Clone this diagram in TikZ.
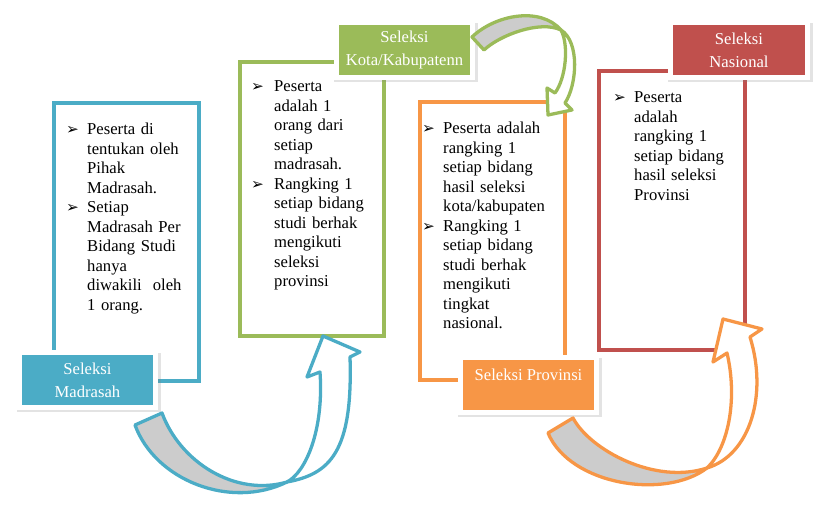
\documentclass[tikz,border=0pt]{standalone}
\usepackage{fontspec}
\setmainfont{Liberation Serif}
\newfontfamily\symfont{DejaVu Sans}
\usetikzlibrary{positioning, shadows}
\definecolor{BoxBlue}{HTML}{4BACC6}
\definecolor{BoxGreen}{HTML}{9BBB59}
\definecolor{BoxOrange}{HTML}{F79646}
\definecolor{BoxRed}{HTML}{C0504D}
\definecolor{BackGrey}{HTML}{CCCCCC}

\begin{document}
\begin{tikzpicture}[x=0.03cm, y=-0.03cm,
    box/.style={rectangle, draw=#1, line width=3.4pt, fill=white, inner sep=0pt, minimum width=4.35cm, minimum height=8.34cm},
    tag/.style={rectangle, fill=#1, draw=white, line width=4.3pt, minimum width=4.08cm, minimum height=1.65cm, text=white, align=center, inner sep=0pt, font=\fontsize{14.2}{19.5}\selectfont, drop shadow={opacity=0.22, shadow scale=1.06, shadow xshift=1pt, shadow yshift=-2pt}},
    txt/.style={anchor=base west, align=left, inner sep=0pt, text width=4cm, font=\fontsize{14.2}{16.6}\selectfont},
    bul/.style={anchor=base east, inner sep=0pt, font=\symfont\fontsize{13}{14}\selectfont},
    band/.style={draw=#1, line width=2.8pt, line join=round}]
    \useasboundingbox (0,0) rectangle (823,516);

    % Kotak
    \node[box=BoxBlue] (kMadrasah) at (126.5,242) {};
    \node[box=BoxGreen, minimum width=4.32cm, minimum height=8.22cm] (kKota) at (312,199) {};
    \node[box=BoxOrange] (kProv) at (492.5,241) {};
    \node[box=BoxRed, minimum width=4.38cm, minimum height=8.37cm] (kNas) at (672,210.5) {};

    % Isi kotak
    \node[bul] (b1a) at (79,135) {➢};
    \node[txt] (t1a) at (87,135) {Peserta di\\tentukan oleh\\Pihak\\Madrasah.};
    \node[bul] (b1b) at (79,213) {➢};
    \node[txt] (t1b) at (87,213) {Setiap\\Madrasah Per\\Bidang Studi\\hanya\\diwakili~ oleh\\1 orang.};

    \node[bul] (b2a) at (264,92) {➢};
    \node[txt] (t2a) at (274,92) {Peserta\\adalah 1\\orang dari\\setiap\\madrasah.};
    \node[bul] (b2b) at (264,189.5) {➢};
    \node[txt] (t2b) at (274,189.5) {Rangking 1\\setiap bidang\\studi berhak\\mengikuti\\seleksi\\provinsi};

    \node[bul] (b3a) at (435,134) {➢};
    \node[txt] (t3a) at (443,134) {Peserta adalah\\rangking 1\\setiap bidang\\hasil seleksi\\kota/kabupaten};
    \node[bul] (b3b) at (435,231.5) {➢};
    \node[txt] (t3b) at (443,231.5) {Rangking 1\\setiap bidang\\studi berhak\\mengikuti\\tingkat\\nasional.};

    \node[bul] (b4a) at (626,103) {➢};
    \node[txt] (t4a) at (634,103) {Peserta\\adalah\\rangking 1\\setiap bidang\\hasil seleksi\\Provinsi};

    % Label
    \node[tag=BoxBlue] (lMadrasah) at (87.5,380) {Seleksi\\Madrasah};
    \node[tag=BoxGreen] (lKota) at (404.5,50) {Seleksi\\Kota/Kabupatenn};
    \node[tag=BoxOrange] (lProv) at (528.5,385) {};
    \node[text=white, inner sep=0pt, font=\fontsize{14.2}{16.6}\selectfont] (tProv) at (528.5,375) {Seleksi Provinsi};
    \node[tag=BoxRed, minimum width=4.11cm] (lNas) at (739,50) {Seleksi\\Nasional};

    % Panah biru
    \coordinate (bT1) at (135,425);
    \coordinate (bT2) at (162,413);
    \coordinate (bX) at (287,482);
    \filldraw[band=BoxBlue, fill=BackGrey] (bT1) -- (bT2) .. controls (180,462) and (235,497) .. (bX) .. controls (230,510) and (155,480) .. (bT1) -- cycle;
    \filldraw[band=BoxBlue, fill=white] (bX) .. controls (330,474) and (353,452) .. (350,357) -- (360,352) -- (323,336) -- (307,377) -- (320,372) .. controls (324,430) and (306,472) .. (bX) -- cycle;

    % Panah hijau
    \coordinate (gT1) at (472,37);
    \coordinate (gT2) at (484,50);
    \coordinate (gX) at (561,30);
    \filldraw[band=BoxGreen, fill=BackGrey] (gT1) -- (gT2) .. controls (500,35) and (540,20) .. (gX) .. controls (540,6) and (495,15) .. (gT1) -- cycle;
    \filldraw[band=BoxGreen, fill=white] (gX) .. controls (580,42) and (577,85) .. (565,103) -- (572,110) -- (548,115) -- (547,88) -- (555,93) .. controls (566,78) and (569,45) .. (gX) -- cycle;

    % Panah oranye
    \coordinate (oT1) at (548,433);
    \coordinate (oT2) at (573,418);
    \coordinate (oX) at (707,468);
    \filldraw[band=BoxOrange, fill=BackGrey] (oT1) -- (oT2) .. controls (590,450) and (655,485) .. (oX) .. controls (665,500) and (570,485) .. (oT1) -- cycle;
    \filldraw[band=BoxOrange, fill=white] (oX) .. controls (750,455) and (768,395) .. (750,337) -- (762,329) -- (723,319) -- (713,362) -- (727,353) .. controls (738,400) and (728,448) .. (oX) -- cycle;
\end{tikzpicture}
\end{document}
